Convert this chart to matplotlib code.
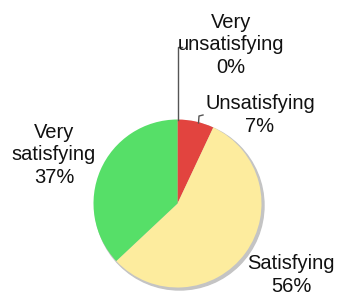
import matplotlib
matplotlib.use("Agg")
import matplotlib.pyplot as plt
from matplotlib.patches import Circle

plt.rcParams['font.family'] = ['Liberation Sans', 'DejaVu Sans']

# data
labels = ["Very\nunsatisfying", "Unsatisfying", "Satisfying", "Very\nsatisfying"]
values = [0, 7, 56, 37]
colors = ["#d93b35", "#e2443f", "#fdec9e", "#56df68"]

W, H = 339, 297
fig = plt.figure(figsize=(W / 100, H / 100), dpi=100)
ax = fig.add_axes([0, 0, 1, 1])

cx, cy, r = 177.5, H - 203.5, 84

# soft shadow behind the pie
ax.add_patch(Circle((cx + 2, cy - 2), r + 0.5, color="#c4c4c4", zorder=0))

ax.pie(values, colors=colors, startangle=90, counterclock=False,
       center=(cx, cy), radius=r, frame=True,
       wedgeprops=dict(linewidth=0))
ax.set_xlim(0, W)
ax.set_ylim(0, H)
ax.set_aspect('equal')
ax.axis('off')

# leader lines
ax.plot([cx, cx, cx + 4], [cy + r, H - 47, H - 47], color="#555555", lw=1)
ax.plot([198.5, 199, 203], [H - 123, H - 116, H - 115], color="#555555", lw=1)

fs = 14.5
texts = [
    (231, H - 45, f"{labels[0]}\n{values[0]}%"),
    (260, H - 115, f"{labels[1]}\n{values[1]}%"),
    (291, H - 275, f"{labels[2]}\n{values[2]}%"),
    (54, H - 155, f"{labels[3]}\n{values[3]}%"),
]
for x, y, s in texts:
    ax.text(x, y, s, ha='center', va='center', fontsize=fs,
            linespacing=1.22, color="#111111")

fig.savefig("out.png", dpi=100)
